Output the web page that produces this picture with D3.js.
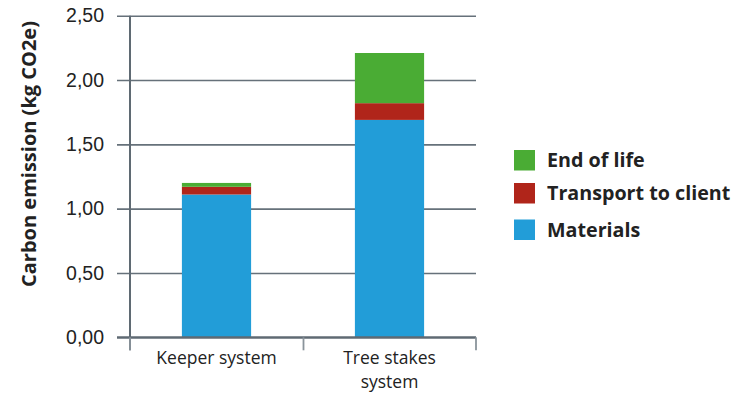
<!DOCTYPE html>
<html>
<head>
<meta charset="utf-8">
<script src="https://cdn.jsdelivr.net/npm/d3@7/dist/d3.min.js"></script>
<style>
  html, body { margin: 0; padding: 0; background: #fff; }
  svg { display: block; font-family: "Open Sans", "Noto Sans", sans-serif; }
</style>
</head>
<body>
<svg id="chart" width="733" height="393"></svg>
<script>
// Carbon emission per system, split by life-cycle stage (kg CO2e)
const categories = [["Keeper system"], ["Tree stakes", "system"]];
const materials = [1.11, 1.69];
const transport = [0.06, 0.13];
const endOfLife = [0.03, 0.39];
const yTicks = [0, 0.5, 1.0, 1.5, 2.0, 2.5];

const seriesNames = ["Materials", "Transport to client", "End of life"];
const seriesColors = ["#229dd8", "#b0251a", "#4aac34"];

const rows = categories.map((c, i) => ({
  key: c.join(" "),
  "Materials": materials[i],
  "Transport to client": transport[i],
  "End of life": endOfLife[i]
}));

const svg = d3.select("#chart");
const margin = { left: 130, right: 476, top: 15.7, bottom: 337.3 };

const x = d3.scaleBand()
  .domain(rows.map(d => d.key))
  .range([margin.left, margin.right])
  .paddingInner(0.6)
  .paddingOuter(0.3);

const y = d3.scaleLinear().domain([0, 2.5]).range([margin.bottom, margin.top]);
const fmt = v => d3.format(".2f")(v).replace(".", ",");

// Horizontal gridlines that also act as left ticks
const grid = svg.append("g")
  .attr("transform", `translate(${margin.left},0)`)
  .call(d3.axisLeft(y).tickValues(yTicks).tickFormat(fmt)
    .tickSize(-(margin.right - margin.left)).tickPadding(26));
grid.select(".domain").remove();
grid.selectAll(".tick line")
  .attr("x1", -13)
  .attr("stroke", "#66717a")
  .attr("stroke-width", 1.6);
grid.selectAll(".tick text")
  .attr("fill", "#222")
  .style("font-size", "19.5px");

// Stacked bars
const stack = d3.stack().keys(seriesNames)(rows);
svg.append("g").selectAll("g")
  .data(stack)
  .join("g")
  .attr("fill", (d, i) => seriesColors[i])
  .selectAll("rect")
  .data(d => d)
  .join("rect")
  .attr("x", d => x(d.data.key))
  .attr("width", x.bandwidth())
  .attr("y", d => y(d[1]))
  .attr("height", d => y(d[0]) - y(d[1]));

// Axis lines
const axisColor = "#5f6a73";
svg.append("line")
  .attr("x1", margin.left).attr("x2", margin.left)
  .attr("y1", margin.top).attr("y2", margin.bottom + 13)
  .attr("stroke", axisColor).attr("stroke-width", 2);

const bottom = svg.append("g")
  .attr("transform", `translate(0,${margin.bottom})`);
bottom.append("line")
  .attr("x1", margin.left - 13).attr("x2", margin.right)
  .attr("stroke", axisColor).attr("stroke-width", 2.2);

// Category separators
const sep = [margin.left, (margin.left + margin.right) / 2 + 0.5, margin.right];
bottom.selectAll(".sep")
  .data(sep)
  .join("line")
  .attr("x1", d => d).attr("x2", d => d)
  .attr("y1", 0).attr("y2", 13)
  .attr("stroke", "#8a949b").attr("stroke-width", 1.8);

// Category labels
bottom.selectAll(".cat")
  .data(rows.map((d, i) => ({ key: d.key, lines: categories[i] })))
  .join("text")
  .attr("text-anchor", "middle")
  .attr("fill", "#222")
  .style("font-size", "17.5px")
  .attr("transform", d => `translate(${x(d.key) + x.bandwidth() / 2},27)`)
  .selectAll("tspan")
  .data(d => d.lines)
  .join("tspan")
  .attr("x", 0)
  .attr("dy", (d, i) => i === 0 ? 0 : 23.8)
  .text(d => d);

// Y axis title
svg.append("text")
  .attr("transform", "translate(36,154) rotate(-90)")
  .attr("text-anchor", "middle")
  .attr("fill", "#222")
  .style("font-size", "20px")
  .style("font-weight", "bold")
  .text("Carbon emission (kg CO2e)");

// Legend (top-down: End of life, Transport, Materials)
const legendItems = seriesNames.map((n, i) => ({ name: n, color: seriesColors[i] })).reverse();
const legendY = [150, 183, 219.5];
const legend = svg.append("g").selectAll("g")
  .data(legendItems)
  .join("g")
  .attr("transform", (d, i) => `translate(514,${legendY[i]})`);
legend.append("rect")
  .attr("width", 21).attr("height", 20.5)
  .attr("fill", d => d.color);
legend.append("text")
  .attr("x", 33).attr("y", 10.5)
  .attr("dy", "0.35em")
  .attr("fill", "#222")
  .style("font-size", "19.7px")
  .style("font-weight", "bold")
  .text(d => d.name);
</script>
</body>
</html>
